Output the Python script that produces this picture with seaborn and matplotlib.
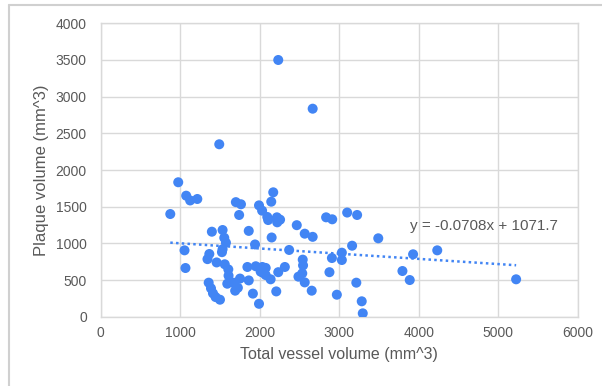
import numpy as np
import pandas as pd
import matplotlib
matplotlib.use("Agg")
import matplotlib.pyplot as plt
import seaborn as sns
from matplotlib.lines import Line2D

# total vessel volume (mm^3)
vessel_vol = [
    2233, 2666, 1491, 975, 1075, 1125, 1215, 875, 1700, 1764,
    1741, 2170, 2145, 1991, 2030, 2095, 2106, 2216, 2256, 2220,
    2466, 2566, 2666, 2835, 2912, 3100, 3225, 1398, 1533, 1554,
    1575, 1533, 1525, 1862, 1941, 2150, 1054, 1066, 1366, 1343,
    1458, 1560, 1605, 1608, 1592, 1670, 1691, 1725, 1752, 1358,
    1387, 1412, 1445, 1500, 1845, 1862, 1914, 1991, 1950, 2033,
    2041, 2075, 2012, 2137, 2208, 2233, 2316, 2370, 2541, 2545,
    2535, 2487, 2566, 2654, 2908, 2877, 2970, 3033, 3033, 3162,
    3215, 3491, 3283, 3296, 3929, 4233, 3795, 3887, 5225, 2075,
]
# plaque volume (mm^3)
plaque_vol = [
    3500, 2836, 2351, 1833, 1650, 1585, 1605, 1400, 1562, 1533,
    1387, 1696, 1568, 1518, 1446, 1360, 1318, 1355, 1323, 1287,
    1248, 1132, 1089, 1355, 1328, 1420, 1387, 1159, 1182, 1076,
    1009, 920, 880, 1170, 985, 1080, 905, 664, 855, 785,
    740, 715, 645, 560, 450, 464, 355, 395, 520, 464,
    387, 319, 268, 232, 678, 495, 315, 176, 688, 678,
    600, 568, 614, 510, 345, 607, 678, 910, 778, 700,
    591, 546, 468, 355, 800, 607, 300, 873, 773, 968,
    464, 1069, 210, 46, 851, 905, 623, 500, 510, 665,
]

# trendline from the chart label
slope = -0.0708
intercept = 1071.7

df = pd.DataFrame({"vessel": vessel_vol, "plaque": plaque_vol})

sns.set_theme(style="white")
plt.rcParams["font.family"] = ["Liberation Sans", "DejaVu Sans"]

blue = "#4285f4"
grid_c = "#d9d9d9"
text_c = "#595959"

fig = plt.figure(figsize=(6.02, 3.86), dpi=100)
ax = fig.add_axes([0.1673, 0.1795, 0.7924, 0.7601])

sns.scatterplot(data=df, x="vessel", y="plaque", ax=ax, color=blue,
                s=52, edgecolor="none", zorder=3)

xs = np.array([df["vessel"].min(), df["vessel"].max()])
ax.plot(xs, slope * xs + intercept, color=blue, linestyle=(0, (1, 1.3)),
        linewidth=1.8, zorder=2)
ax.text(3890, 1241, f"y = {slope}x + {intercept}", color=text_c,
        fontsize=11, va="center", ha="left")

ax.set_xlim(0, 6000)
ax.set_ylim(0, 4000)
ax.set_xticks(range(0, 6001, 1000))
ax.set_yticks(range(0, 4001, 500))
ax.grid(True, color=grid_c, linewidth=1)
ax.set_axisbelow(True)
for sp in ax.spines.values():
    sp.set_color(grid_c)
    sp.set_linewidth(1)
ax.tick_params(axis="both", length=0, labelsize=10, colors=text_c)
ax.tick_params(axis="y", pad=10)
ax.tick_params(axis="x", pad=7)
ax.set_xlabel("Total vessel volume (mm^3)", fontsize=11.5, color=text_c, labelpad=5)
ax.set_ylabel("Plaque volume (mm^3)", fontsize=12, color=text_c, labelpad=5)

# chart container border (top and left edges visible)
fig.add_artist(Line2D([8.5 / 602, 8.5 / 602], [0, 1 - 4.5 / 386],
                      transform=fig.transFigure, color="#d0d0d0", linewidth=1.5))
fig.add_artist(Line2D([8.5 / 602, 1], [1 - 4.5 / 386, 1 - 4.5 / 386],
                      transform=fig.transFigure, color="#d0d0d0", linewidth=1.5))

fig.savefig("out.png", dpi=100)
